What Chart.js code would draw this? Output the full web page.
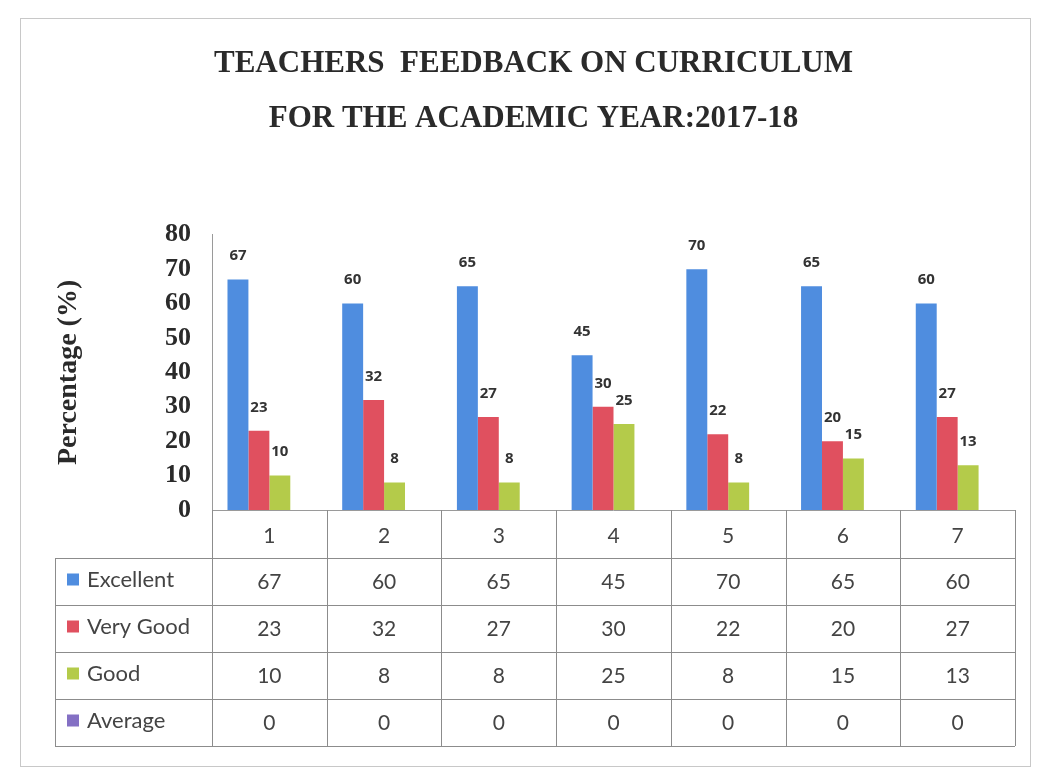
<!DOCTYPE html>
<html>
<head>
<meta charset="utf-8">
<script src="https://cdn.jsdelivr.net/npm/chart.js@4/dist/chart.umd.min.js"></script>
<style>
  html, body { margin: 0; padding: 0; background: #ffffff; }
  #wrap { position: relative; width: 1042px; height: 777px; }
  canvas { display: block; }
</style>
</head>
<body>
<div id="wrap"><canvas id="c" width="1042" height="777"></canvas></div>
<script>
const titleLines = ["TEACHERS  FEEDBACK ON CURRICULUM", "FOR THE ACADEMIC YEAR:2017-18"];
const categories = ["1", "2", "3", "4", "5", "6", "7"];
const seriesNames = ["Excellent", "Very Good", "Good", "Average"];
const excellent = [67, 60, 65, 45, 70, 65, 60];
const veryGood = [23, 32, 27, 30, 22, 20, 27];
const good = [10, 8, 8, 25, 8, 15, 13];
const average = [0, 0, 0, 0, 0, 0, 0];
const yTicks = [0, 10, 20, 30, 40, 50, 60, 70, 80];
const yAxisTitle = "Percentage (%)";

const colors = ["#4f8ddf", "#e0505f", "#b4cb4a", "#8470c4"];
const seriesValues = [excellent, veryGood, good, average];

const tablePlugin = {
  id: 'tablePlugin',
  afterDraw(chart) {
    const ctx = chart.ctx;
    const area = chart.chartArea;
    const xs = chart.scales.x;
    const n = categories.length;
    const colW = (area.right - area.left) / n;
    const top = area.bottom;
    const headerH = 48;
    const rowH = 47;
    const legendLeft = 55;
    ctx.save();
    // value labels above bars
    ctx.font = 'bold 15px "Open Sans", "Liberation Sans", sans-serif';
    ctx.fillStyle = '#333';
    ctx.textAlign = 'center';
    ctx.textBaseline = 'bottom';
    chart.data.datasets.forEach((ds, di) => {
      if (di === 3) return;
      const meta = chart.getDatasetMeta(di);
      meta.data.forEach((bar, i) => {
        ctx.fillText(String(ds.data[i]), bar.x, bar.y - 16);
      });
    });
    // axis baseline
    ctx.strokeStyle = '#9a9a9a';
    ctx.lineWidth = 1;
    ctx.beginPath();
    ctx.moveTo(area.left, top + 0.5);
    ctx.lineTo(area.right, top + 0.5);
    ctx.stroke();
    // table grid
    ctx.strokeStyle = '#8c8c8c';
    const bottom = top + headerH + rowH * seriesNames.length;
    ctx.beginPath();
    for (let i = 0; i <= n; i++) {
      const x = Math.round(area.left + i * colW) + 0.5;
      ctx.moveTo(x, top);
      ctx.lineTo(x, bottom);
    }
    ctx.moveTo(legendLeft + 0.5, top + headerH);
    ctx.lineTo(legendLeft + 0.5, bottom);
    for (let r = 0; r <= seriesNames.length; r++) {
      const y = Math.round(top + headerH + r * rowH) + 0.5;
      ctx.moveTo(legendLeft, y);
      ctx.lineTo(area.right, y);
    }
    ctx.stroke();
    // header labels
    ctx.font = '21px Lato, "Open Sans", sans-serif';
    ctx.fillStyle = '#444';
    ctx.textBaseline = 'middle';
    ctx.textAlign = 'center';
    categories.forEach((c, i) => {
      ctx.fillText(c, xs.getPixelForValue(i), top + headerH / 2 + 2);
    });
    // rows
    seriesNames.forEach((name, r) => {
      const cy = top + headerH + r * rowH + rowH / 2;
      ctx.fillStyle = colors[r];
      ctx.fillRect(legendLeft + 12, cy - 8, 12, 12);
      ctx.fillStyle = '#444';
      ctx.textAlign = 'left';
      ctx.font = '22px Lato, "Open Sans", sans-serif';
      ctx.fillText(name, legendLeft + 32, cy - 2);
      ctx.textAlign = 'center';
      ctx.font = '21px Lato, "Open Sans", sans-serif';
      seriesValues[r].forEach((v, i) => {
        ctx.fillText(String(v), xs.getPixelForValue(i), cy + 1);
      });
    });
    // outer frame
    ctx.strokeStyle = '#c8c8c8';
    ctx.strokeRect(20.5, 18.5, 1010, 748);
    ctx.restore();
  }
};

new Chart(document.getElementById('c'), {
  type: 'bar',
  data: {
    labels: categories,
    datasets: seriesNames.map((name, i) => ({
      label: name,
      data: seriesValues[i],
      backgroundColor: colors[i],
      borderWidth: 0
    }))
  },
  options: {
    responsive: false,
    animation: false,
    devicePixelRatio: 1,
    layout: { padding: { left: 52, right: 27, top: 0, bottom: 267 } },
    datasets: { bar: { categoryPercentage: 0.73, barPercentage: 1.0 } },
    plugins: {
      legend: { display: false },
      tooltip: { enabled: false },
      title: {
        display: true,
        text: titleLines,
        color: '#2a2a2a',
        font: { family: '"Liberation Serif", "Times New Roman", serif', size: 31, weight: 'bold', lineHeight: 1.77 },
        padding: { top: 37, bottom: 88 }
      }
    },
    scales: {
      x: {
        display: false,
        grid: { display: false }
      },
      y: {
        min: 0,
        max: 80,
        afterBuildTicks(scale) { scale.ticks = yTicks.map(v => ({ value: v })); },
        afterFit(scale) { scale.width = 160; },
        grid: { display: false, drawTicks: false },
        border: { display: true, color: '#9a9a9a' },
        ticks: {
          autoSkip: false,
          color: '#2a2a2a',
          padding: 21,
          font: { family: '"Liberation Serif", "Times New Roman", serif', size: 26, weight: 'bold' }
        },
        title: {
          display: true,
          text: yAxisTitle,
          color: '#2a2a2a',
          padding: { top: 0, bottom: 0 },
          font: { family: '"Liberation Serif", "Times New Roman", serif', size: 28, weight: 'bold' }
        }
      }
    }
  },
  plugins: [tablePlugin]
});
</script>
</body>
</html>
